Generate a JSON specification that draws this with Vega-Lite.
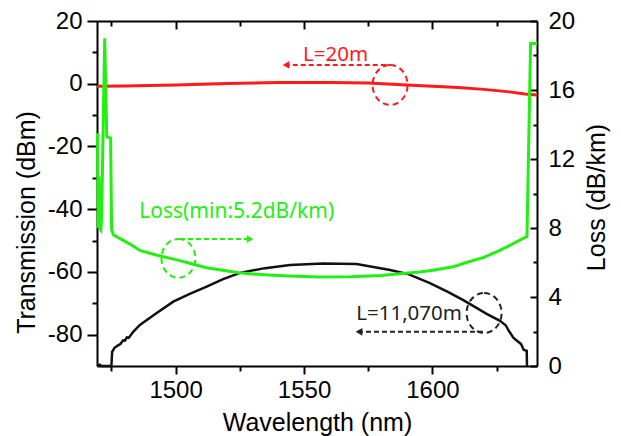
{
  "$schema": "https://vega.github.io/schema/vega-lite/v6.json",
  "width": 440,
  "height": 345,
  "autosize": "none",
  "padding": {"left": 97, "top": 21, "right": 84, "bottom": 70},
  "background": "white",
  "config": {
    "view": {"stroke": null},
    "font": "Liberation Sans",
    "axis": {
      "grid": false,
      "domainColor": "black",
      "domainWidth": 2,
      "tickColor": "black",
      "tickWidth": 2,
      "labelColor": "black",
      "titleColor": "black",
      "labelFont": "Liberation Sans",
      "titleFont": "Liberation Sans",
      "labelFontSize": 24,
      "titleFontSize": 25,
      "titleFontWeight": "normal",
      "labelOverlap": false,
      "labelFlush": false,
      "labelBound": false
    }
  },
  "datasets": {
    "red": [
      {"wl": 1469.4, "v": -0.8}, {"wl": 1480, "v": -0.7}, {"wl": 1500, "v": -0.4}, {"wl": 1520, "v": 0.1},
      {"wl": 1540, "v": 0.4}, {"wl": 1560, "v": 0.4}, {"wl": 1575, "v": 0.2}, {"wl": 1590, "v": -0.4},
      {"wl": 1600, "v": -0.8}, {"wl": 1610, "v": -1.2}, {"wl": 1620, "v": -1.8}, {"wl": 1630, "v": -2.6},
      {"wl": 1636, "v": -3.3}, {"wl": 1640.7, "v": -3.6}
    ],
    "black": [
      {"wl": 1469.5, "v": -90}, {"wl": 1470.5, "v": -89.6}, {"wl": 1471.2, "v": -90}, {"wl": 1475.0, "v": -90},
      {"wl": 1475.3, "v": -85.5}, {"wl": 1476.2, "v": -84.2}, {"wl": 1477.3, "v": -83.6}, {"wl": 1478.5, "v": -83.0},
      {"wl": 1479.6, "v": -81.8}, {"wl": 1480.3, "v": -81.9}, {"wl": 1481.0, "v": -80.9}, {"wl": 1481.8, "v": -81.0},
      {"wl": 1483.5, "v": -79.1}, {"wl": 1486.1, "v": -76.9}, {"wl": 1492.5, "v": -73.2}, {"wl": 1499.1, "v": -69.5},
      {"wl": 1505.5, "v": -67.0}, {"wl": 1512.1, "v": -64.7}, {"wl": 1518.5, "v": -62.3}, {"wl": 1525.1, "v": -60.3},
      {"wl": 1534.8, "v": -58.8}, {"wl": 1544.5, "v": -57.8}, {"wl": 1557.5, "v": -57.3}, {"wl": 1570.5, "v": -57.5},
      {"wl": 1583.5, "v": -59.4}, {"wl": 1590.6, "v": -60.7}, {"wl": 1599.0, "v": -63.6}, {"wl": 1606, "v": -66.4},
      {"wl": 1612.0, "v": -69.0}, {"wl": 1617, "v": -71.4}, {"wl": 1621.1, "v": -73.4}, {"wl": 1626.3, "v": -75.6},
      {"wl": 1628.5, "v": -77.0}, {"wl": 1629.5, "v": -78.5}, {"wl": 1631.5, "v": -81.0}, {"wl": 1633, "v": -82.0},
      {"wl": 1634.5, "v": -83.0}, {"wl": 1635.5, "v": -84.8}, {"wl": 1636.7, "v": -85.2}, {"wl": 1636.8, "v": -90}
    ],
    "green": [
      {"wl": 1469.6, "v": 13.5}, {"wl": 1469.9, "v": 8.0}, {"wl": 1470.2, "v": 11.0}, {"wl": 1470.5, "v": 8.0},
      {"wl": 1470.9, "v": 7.9}, {"wl": 1471.2, "v": 8.6}, {"wl": 1472.4, "v": 19.0}, {"wl": 1473.2, "v": 13.3},
      {"wl": 1474.7, "v": 13.2}, {"wl": 1475.1, "v": 7.9}, {"wl": 1475.8, "v": 7.6}, {"wl": 1477.6, "v": 7.45},
      {"wl": 1479.5, "v": 7.3}, {"wl": 1483, "v": 7.0}, {"wl": 1486.1, "v": 6.7}, {"wl": 1492, "v": 6.45},
      {"wl": 1500.5, "v": 6.15}, {"wl": 1505.2, "v": 5.97}, {"wl": 1512, "v": 5.7}, {"wl": 1524.6, "v": 5.4},
      {"wl": 1536, "v": 5.27}, {"wl": 1544.1, "v": 5.22}, {"wl": 1555.8, "v": 5.16}, {"wl": 1568, "v": 5.17},
      {"wl": 1580, "v": 5.24}, {"wl": 1587.2, "v": 5.35}, {"wl": 1595, "v": 5.45}, {"wl": 1600.2, "v": 5.55},
      {"wl": 1608, "v": 5.75}, {"wl": 1613.2, "v": 6.0}, {"wl": 1620, "v": 6.3}, {"wl": 1626.2, "v": 6.7},
      {"wl": 1630.2, "v": 7.0}, {"wl": 1634, "v": 7.3}, {"wl": 1636.8, "v": 7.5}, {"wl": 1638.2, "v": 18.7},
      {"wl": 1640.7, "v": 18.7}
    ],
    "leftCircles": [
      {"wl": 1583.5, "v": -0.4, "who": "red"},
      {"wl": 1620.1, "v": -73.1, "who": "black"}
    ],
    "leftArrows": [
      {"wl": 1542.5, "wl2": 1583.5, "v": 6.0, "who": "red"},
      {"wl": 1571.0, "wl2": 1620.5, "v": -79.1, "who": "black"}
    ],
    "leftHeads": [
      {"wl": 1543.0, "v": 6.0, "who": "red"},
      {"wl": 1571.4, "v": -79.1, "who": "black"}
    ],
    "leftLabels": [
      {"wl": 1562.3, "v": 9.2, "who": "red", "label": "L=20m"},
      {"wl": 1590.9, "v": -73.4, "who": "black", "label": "L=11,070m"}
    ],
    "greenCircle": [{"wl": 1501.1, "v": 6.24}],
    "greenArrow": [{"wl": 1501.7, "wl2": 1528.5, "v": 7.36}],
    "greenHead": [{"wl": 1529.0, "v": 7.36}],
    "greenLabel": [{"wl": 1523.8, "v": 8.9, "label": "Loss(min:5.2dB/km)"}]
  },
  "resolve": {"scale": {"y": "independent"}, "axis": {"x": "independent"}},
  "layer": [
    {
      "encoding": {
        "x": {
          "field": "wl", "type": "quantitative",
          "scale": {"domain": [1469.4, 1640.7], "nice": false, "zero": false},
          "axis": {
            "orient": "bottom",
            "values": [1475, 1500, 1525, 1550, 1575, 1600, 1625],
            "labelExpr": "datum.value % 50 === 0 ? '' + datum.value : ''",
            "tickSize": {"condition": {"test": "datum.value % 50 === 0", "value": 8}, "value": 5},
            "labelPadding": 4,
            "title": "Wavelength (nm)",
            "titleY": 64,
            "titleBaseline": "alphabetic"
          }
        },
        "y": {
          "field": "v", "type": "quantitative",
          "scale": {"domain": [-90, 20], "nice": false, "zero": false},
          "axis": {
            "orient": "left",
            "values": [-80, -70, -60, -50, -40, -30, -20, -10, 0, 10, 20],
            "labelExpr": "datum.value % 20 === 0 ? '' + datum.value : ''",
            "tickSize": {"condition": {"test": "datum.value % 20 === 0", "value": 10}, "value": 5},
            "labelPadding": 5,
            "title": "Transmission (dBm)",
            "titleAngle": -90,
            "titleX": -71,
            "titleY": 201,
            "titleBaseline": "middle",
            "titleAlign": "center"
          }
        }
      },
      "layer": [
        {"data": {"name": "red"}, "mark": {"type": "line", "color": "#ff1a1a", "strokeWidth": 3}},
        {"data": {"name": "black"}, "mark": {"type": "line", "color": "#111111", "strokeWidth": 2.5}},
        {
          "data": {"name": "leftCircles"},
          "mark": {"type": "point", "shape": "M 0 -1.14 A 1 1.14 0 1 1 0 1.14 A 1 1.14 0 1 1 0 -1.14 Z", "filled": false, "size": 1225, "strokeWidth": 2, "strokeDash": [6, 4], "opacity": 1},
          "encoding": {"color": {"field": "who", "type": "nominal", "scale": {"domain": ["red", "black"], "range": ["#ff1a1a", "#222222"]}, "legend": null}}
        },
        {
          "data": {"name": "leftArrows"},
          "mark": {"type": "rule", "strokeWidth": 2, "strokeDash": [5, 3]},
          "encoding": {"x2": {"field": "wl2"}, "color": {"field": "who", "type": "nominal", "scale": {"domain": ["red", "black"], "range": ["#ff1a1a", "#222222"]}, "legend": null}}
        },
        {
          "data": {"name": "leftHeads"},
          "mark": {"type": "point", "shape": "triangle-left", "filled": true, "size": 60, "opacity": 1},
          "encoding": {"color": {"field": "who", "type": "nominal", "scale": {"domain": ["red", "black"], "range": ["#ff1a1a", "#222222"]}, "legend": null}}
        },
        {
          "data": {"name": "leftLabels"},
          "mark": {"type": "text", "font": "Noto Sans", "fontSize": 20.5, "align": "center", "baseline": "middle"},
          "encoding": {"text": {"field": "label"}, "color": {"field": "who", "type": "nominal", "scale": {"domain": ["red", "black"], "range": ["#ff1a1a", "#222222"]}, "legend": null}}
        }
      ]
    },
    {
      "encoding": {
        "x": {
          "field": "wl", "type": "quantitative",
          "scale": {"domain": [1469.4, 1640.7], "nice": false, "zero": false},
          "axis": {
            "orient": "top",
            "values": [1475, 1500, 1525, 1550, 1575, 1600, 1625],
            "labels": false,
            "tickSize": {"condition": {"test": "datum.value % 50 === 0", "value": -8}, "value": -5},
            "title": null
          }
        },
        "y": {
          "field": "v", "type": "quantitative",
          "scale": {"domain": [0, 20], "nice": false, "zero": false},
          "axis": {
            "orient": "right",
            "values": [0, 2, 4, 6, 8, 10, 12, 14, 16, 18, 20],
            "labelExpr": "datum.value % 4 === 0 ? '' + datum.value : ''",
            "tickSize": {"condition": {"test": "datum.value % 4 === 0", "value": -7}, "value": -4},
            "labelPadding": 18,
            "title": "Loss (dB/km)",
            "titleAngle": -90,
            "titleX": 59,
            "titleY": 176,
            "titleBaseline": "middle",
            "titleAlign": "center"
          }
        }
      },
      "layer": [
        {"data": {"name": "green"}, "mark": {"type": "line", "color": "#22f010", "strokeWidth": 3}},
        {"data": {"name": "greenCircle"}, "mark": {"type": "point", "shape": "M 0 -1.14 A 1 1.14 0 1 1 0 1.14 A 1 1.14 0 1 1 0 -1.14 Z", "filled": false, "size": 1156, "strokeWidth": 2, "strokeDash": [6, 4], "color": "#22f010", "opacity": 1}},
        {"data": {"name": "greenArrow"}, "mark": {"type": "rule", "strokeWidth": 2, "strokeDash": [5, 3], "color": "#22f010"}, "encoding": {"x2": {"field": "wl2"}}},
        {"data": {"name": "greenHead"}, "mark": {"type": "point", "shape": "triangle-right", "filled": true, "size": 60, "color": "#22f010", "opacity": 1}},
        {"data": {"name": "greenLabel"}, "mark": {"type": "text", "font": "Noto Sans", "fontSize": 21, "align": "center", "baseline": "middle", "color": "#22f010"}, "encoding": {"text": {"field": "label"}}}
      ]
    }
  ]
}
